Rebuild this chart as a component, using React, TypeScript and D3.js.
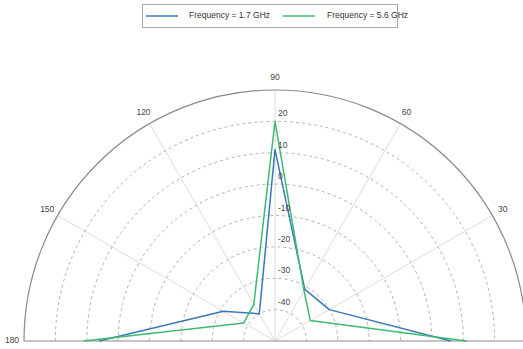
import * as d3 from 'd3';

// angles in degrees, gain values in dB
const angles = [0, 30, 60, 90, 120, 150, 180];
const freq17 = [6, -30, -31, 11, -40, -31, 6];
const freq56 = [11, -37, -31.5, 20, -36.5, -38.5, 11];
const ringTicks = [-40, -30, -20, -10, 0, 10, 20];
const angleTicks = [30, 60, 90, 120, 150, 180];
const seriesNames = ['Frequency = 1.7 GHz', 'Frequency = 5.6 GHz'];
const seriesColors = ['#3b78b9', '#3dba72'];

const W = 523;
const H = 349;
const cx = 275;
const cy = 341;
const R = 251;

const rScale = d3.scaleLinear().domain([-50, 30]).range([0, R]);
const toRad = (deg: number) => (deg * Math.PI) / 180;

const radial = d3
  .lineRadial<[number, number]>()
  .angle((d) => toRad(90 - d[0]))
  .radius((d) => rScale(d[1]));

const halfArc = (r: number) => {
  const p = d3.path();
  p.arc(cx, cy, r, Math.PI, 2 * Math.PI, false);
  return p.toString();
};

const font = 'Liberation Sans, Arial, sans-serif';

export default function App() {
  const series = [freq17, freq56].map((vals) =>
    angles.map((a, i) => [a, vals[i]] as [number, number])
  );

  return (
    <svg
      width={W}
      height={H}
      style={{ position: 'absolute', left: 0, top: 0, background: '#fff' }}
      fontFamily={font}
    >
      {/* spokes */}
      {angleTicks
        .filter((a) => a < 180)
        .map((a) => (
          <line
            key={'s' + a}
            x1={cx}
            y1={cy}
            x2={cx + R * Math.cos(toRad(a))}
            y2={cy - R * Math.sin(toRad(a))}
            stroke="#dcdcdc"
            strokeWidth={1}
          />
        ))}

      {/* dashed rings */}
      {ringTicks.map((t) => (
        <path
          key={'r' + t}
          d={halfArc(rScale(t))}
          fill="none"
          stroke="#b0b0b0"
          strokeWidth={1}
          strokeDasharray="3,3"
        />
      ))}

      {/* outer arc and baseline */}
      <path d={halfArc(R)} fill="none" stroke="#8a8a8a" strokeWidth={1.2} />
      <line x1={cx - R} y1={cy} x2={cx + R} y2={cy} stroke="#8a8a8a" strokeWidth={1.2} />

      {/* data */}
      {series.map((s, i) => (
        <path
          key={'d' + i}
          d={radial(s) || ''}
          transform={`translate(${cx},${cy})`}
          fill="none"
          stroke={seriesColors[i]}
          strokeWidth={1.5}
          strokeLinejoin="round"
        />
      ))}

      {/* ring labels */}
      {ringTicks.map((t) => (
        <text
          key={'rl' + t}
          x={cx + 3}
          y={cy - rScale(t) - 5}
          fontSize={8.5}
          fill="#444"
        >
          {t}
        </text>
      ))}

      {/* angle labels */}
      {angleTicks.map((a) => (
        <text
          key={'al' + a}
          x={cx + 263 * Math.cos(toRad(a))}
          y={cy - 263 * Math.sin(toRad(a))}
          textAnchor="middle"
          dominantBaseline="middle"
          fontSize={8.5}
          fill="#444"
        >
          {a}
        </text>
      ))}

      {/* legend */}
      <rect x={142.5} y={4.5} width={255} height={23} fill="#fff" stroke="#a8a8a8" />
      <line x1={146} y1={16} x2={178} y2={16} stroke={seriesColors[0]} strokeWidth={1.5} />
      <text x={189} y={16} dominantBaseline="middle" fontSize={8.5} fill="#333">
        {seriesNames[0]}
      </text>
      <line x1={283} y1={16} x2={315} y2={16} stroke={seriesColors[1]} strokeWidth={1.5} />
      <text x={327} y={16} dominantBaseline="middle" fontSize={8.5} fill="#333">
        {seriesNames[1]}
      </text>
    </svg>
  );
}
